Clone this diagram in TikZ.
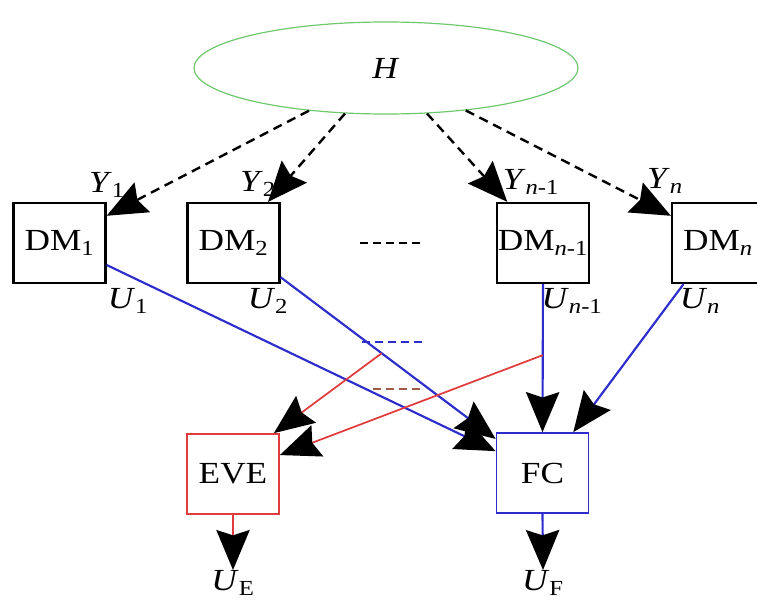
\documentclass[tikz,border=0pt]{standalone}
\usepackage{fontspec}
\setmainfont{Liberation Serif}[FakeStretch=1.15]
\usetikzlibrary{shapes.geometric,arrows.meta,calc}

\definecolor{hgreen}{RGB}{110,200,110}
\definecolor{fcblue}{RGB}{45,45,205}
\definecolor{evered}{RGB}{225,60,60}
\definecolor{dashbrown}{RGB}{160,90,70}

\newcommand{\sub}[2]{#1\textsubscript{#2}}

\begin{document}
\begin{tikzpicture}[x=0.75pt, y=-0.75pt,
  >={Stealth[length=30pt, width=25pt, inset=4pt, color=black]},
  txt/.style={font=\fontsize{23pt}{27pt}\selectfont},
  lbl/.style={txt, inner sep=0pt},
  dmbox/.style={txt, draw=black, line width=1.7pt, minimum width=69pt,
    minimum height=60pt, inner sep=0pt},
  obs/.style={->, dash pattern=on 7pt off 4.5pt, line width=1.8pt},
  ctrl/.style={->, draw=fcblue, line width=1.6pt},
  leak/.style={->, draw=evered, line width=1.3pt},
  dots/.style={dash pattern=on 6pt off 3.75pt, line width=0.9pt}]

  \useasboundingbox (0,0) rectangle (757,603);

  % ---- Hypothesis ----
  \node[txt, ellipse, draw=hgreen, line width=0.9pt, minimum width=288pt,
    minimum height=69pt] (h) at (386,68) {\textit{H}};

  % ---- Decision makers ----
  \node[dmbox] (dm1) at (59.5,243) {\sub{DM}{1}};
  \node[dmbox] (dm2) at (233.5,243) {\sub{DM}{2}};
  \node[dmbox] (dmn1) at (543,243) {\sub{DM}{\textit{n}-1}};
  \node[dmbox] (dmn) at (718,243) {\sub{DM}{\textit{n}}};
  \draw[dots] (360,243) -- (425,243);

  % observations Y from H
  \draw[obs] (h.-151) -- (dm1.30);
  \draw[obs] (h.-132) -- (dm2.50);
  \draw[obs] (h.-48) -- (dmn1.131);
  \draw[obs] (h.-28) -- (dmn.150);
  \node[lbl] (y1) at (107,185) {\sub{\textit{Y}}{1}};
  \node[lbl] (y2) at (258,184) {\sub{\textit{Y}}{2}};
  \node[lbl] (yn1) at (531,182) {\sub{\textit{Y}}{\textit{n}-1}};
  \node[lbl] (yn) at (665,181) {\sub{\textit{Y}}{\textit{n}}};

  % ---- EVE and FC ----
  \node[dmbox, draw=evered, line width=1.3pt] (eve) at (233,474) {EVE};
  \node[dmbox, draw=fcblue, line width=1.3pt] (fc) at (542.5,473) {FC};

  % decisions U to FC
  \draw[ctrl] (dm1.-25) -- (fc.155);
  \draw[ctrl] (dm2.-36) -- (fc.144);
  \draw[ctrl] (dmn1.south) -- (fc.north);
  \draw[ctrl] (dmn.-130) -- (fc.53);
  \node[lbl] (u1) at (128,301) {\sub{\textit{U}}{1}};
  \node[lbl] (u2) at (268,301) {\sub{\textit{U}}{2}};
  \node[lbl] (un1) at (572,301) {\sub{\textit{U}}{\textit{n}-1}};
  \node[lbl] (un) at (700,301) {\sub{\textit{U}}{\textit{n}}};
  \draw[dots, draw=fcblue] (362,342) -- (422,342);

  % eavesdropping on the decisions
  \coordinate (tap2) at ($(dm2.-36)!0.47!(fc.144)$);
  \coordinate (tapn1) at ($(dmn1.south)!0.48!(fc.north)$);
  \draw[leak] (tap2) -- (eve.45);
  \draw[leak] (tapn1) -- (eve.22);
  \draw[dots, draw=dashbrown] (373,389) -- (422,389);

  % ---- Outputs ----
  \node[lbl, anchor=north] (ue) at (233,570) {\sub{\textit{U}}{E}};
  \node[lbl, anchor=north] (uf) at (543,570) {\sub{\textit{U}}{F}};
  \draw[leak] (eve.south) -- (ue.north);
  \draw[ctrl] (fc.south) -- (uf.north);

\end{tikzpicture}
\end{document}
